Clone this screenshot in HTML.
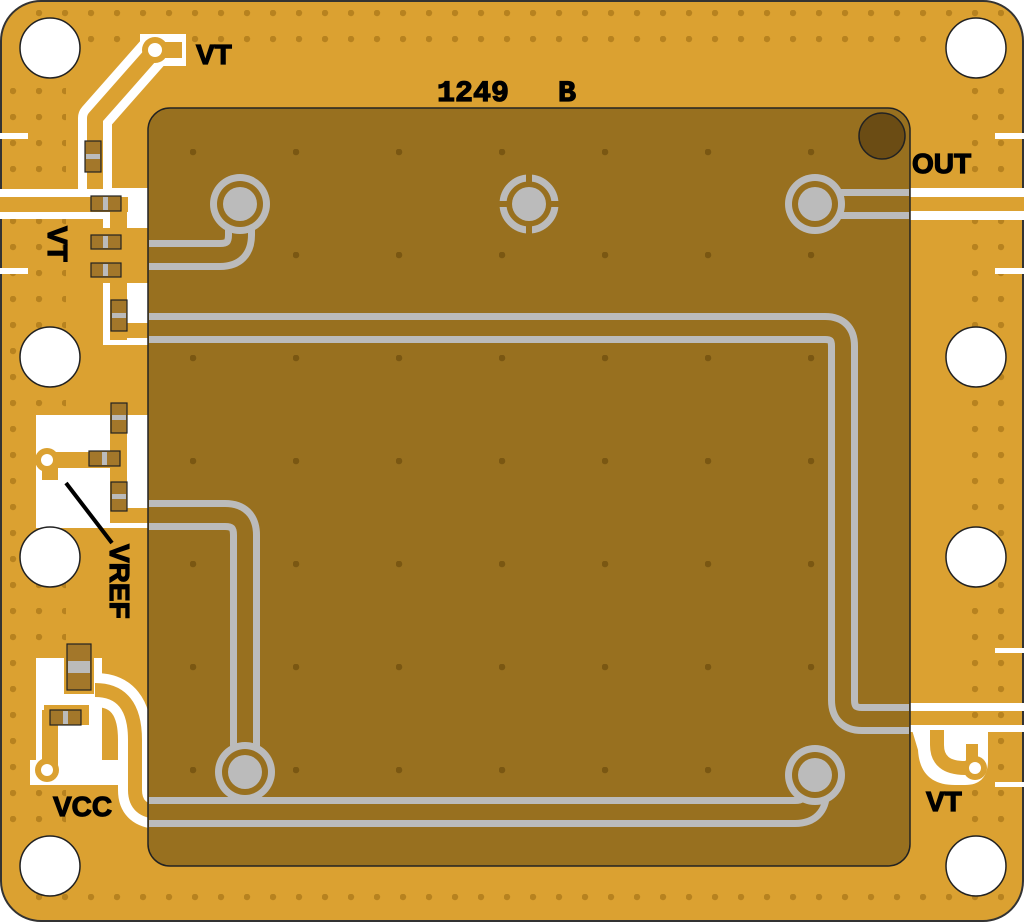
<!DOCTYPE html>
<html><head><meta charset="utf-8"><style>
html,body{margin:0;padding:0;background:#fff;}
svg{display:block}
text{font-family:"Liberation Sans",sans-serif;font-weight:bold;fill:#000;stroke:#000;stroke-width:1.2}
</style></head><body>
<svg width="1024" height="922" viewBox="0 0 1024 922" xmlns="http://www.w3.org/2000/svg">
<defs>
<pattern id="vd" x="10" y="10" width="26" height="26" patternUnits="userSpaceOnUse"><circle cx="3" cy="3" r="3.2" fill="#b7821f"/></pattern>
<pattern id="vi" x="293" y="149" width="103" height="103" patternUnits="userSpaceOnUse"><circle cx="3" cy="3" r="3.3" fill="#7a5712"/></pattern>
</defs>
<rect x="1" y="1" width="1022" height="920" rx="40" fill="#DBA131" stroke="#333" stroke-width="2"/>
<rect x="20" y="8" width="984" height="42" fill="url(#vd)"/>
<rect x="20" y="884" width="984" height="32" fill="url(#vd)"/>
<rect x="6" y="80" width="60" height="760" fill="url(#vd)"/>
<rect x="970" y="80" width="50" height="760" fill="url(#vd)"/>

<path d="M155 50 L95 118 L95 190" fill="none" stroke="#fff" stroke-width="34" stroke-linejoin="round"/>
<rect x="140" y="34" width="46" height="32" fill="#fff"/>
<path d="M155 50 L95 118 L95 195" fill="none" stroke="#DBA131" stroke-width="16" stroke-linejoin="round"/>
<rect x="152" y="42" width="30" height="16" fill="#DBA131"/>
<circle cx="155" cy="50" r="13" fill="#DBA131"/>
<circle cx="155" cy="50" r="7" fill="#fff"/>
<rect x="0" y="189" width="148" height="30" fill="#fff"/>
<rect x="103" y="188" width="45" height="157" fill="#fff"/>
<rect x="0" y="197" width="128" height="15" fill="#DBA131"/>
<rect x="110" y="197" width="17" height="143" fill="#DBA131"/>
<rect x="103" y="228" width="45" height="55" fill="#DBA131"/>
<rect x="110" y="323" width="38" height="15" fill="#DBA131"/>
<rect x="0" y="133" width="28" height="6" fill="#fff"/>
<rect x="0" y="268" width="28" height="6" fill="#fff"/>

<rect x="36" y="415" width="112" height="113" fill="#fff"/>
<rect x="110" y="400" width="17" height="120" fill="#DBA131"/>
<rect x="110" y="508" width="38" height="15" fill="#DBA131"/>
<rect x="44" y="452" width="70" height="16" fill="#DBA131"/>
<rect x="42" y="460" width="16" height="20" fill="#DBA131"/>
<circle cx="47" cy="460" r="12" fill="#DBA131"/>
<circle cx="47" cy="460" r="6" fill="#fff"/>
<line x1="66" y1="483" x2="112" y2="543" stroke="#000" stroke-width="4"/>

<rect x="36" y="658" width="66" height="112" fill="#fff"/>
<rect x="30" y="760" width="90" height="25" fill="#fff"/>
<path d="M95 690 Q135 690 135 740 L135 790 Q135 812 160 812" fill="none" stroke="#fff" stroke-width="34"/>
<path d="M95 690 Q135 690 135 740 L135 790 Q135 812 160 812" fill="none" stroke="#DBA131" stroke-width="14"/>
<rect x="64" y="644" width="30" height="50" fill="#DBA131"/>
<rect x="44" y="705" width="45" height="20" fill="#DBA131"/>
<rect x="42" y="710" width="16" height="55" fill="#DBA131"/>
<circle cx="47" cy="770" r="12" fill="#DBA131"/>
<circle cx="47" cy="770" r="6" fill="#fff"/>

<rect x="910" y="188" width="114" height="32" fill="#fff"/>
<rect x="910" y="197" width="114" height="14" fill="#DBA131"/>
<rect x="995" y="133" width="29" height="6" fill="#fff"/>
<rect x="995" y="268" width="29" height="6" fill="#fff"/>
<rect x="995" y="648" width="29" height="5" fill="#fff"/>
<rect x="995" y="782" width="29" height="5" fill="#fff"/>
<rect x="910" y="703" width="114" height="8" fill="#fff"/>
<rect x="910" y="725" width="114" height="7" fill="#fff"/>
<path d="M912 730 L988 730 L988 760 Q988 785 965 785 L955 785 Q920 785 918 750 Z" fill="#fff"/>
<path d="M937 730 L937 745 Q937 768 965 768 L975 768" fill="none" stroke="#DBA131" stroke-width="14"/>
<rect x="966" y="744" width="12" height="20" fill="#DBA131"/>
<circle cx="975" cy="768" r="12" fill="#DBA131"/>
<circle cx="975" cy="768" r="6" fill="#fff"/>

<g fill="#fff" stroke="#222" stroke-width="1.5">
<circle cx="50" cy="48" r="30"/><circle cx="976" cy="48" r="30"/>
<circle cx="50" cy="357" r="30"/><circle cx="976" cy="357" r="30"/>
<circle cx="50" cy="557" r="30"/><circle cx="976" cy="557" r="30"/>
<circle cx="50" cy="866" r="30"/><circle cx="976" cy="866" r="30"/>
</g>

<rect x="148" y="108" width="762" height="758" rx="22" fill="#98701F" stroke="#222" stroke-width="1.5"/>
<rect x="150" y="110" width="758" height="754" fill="url(#vi)"/>
<circle cx="882" cy="136" r="23" fill="#6b4c14" stroke="#222" stroke-width="1.5"/>

<g fill="none" stroke-linejoin="round">
<g stroke="#BBBBBB" stroke-width="30">
<path d="M240 204 L240 235 Q240 255 220 255 L149 255"/>
<path d="M149 328 L825 328 Q843 328 843 346 L843 700 Q843 719 862 719 L909 719"/>
<path d="M149 515 L225 515 Q245 515 245 535 L245 772"/>
<path d="M815 775 L815 792 Q815 812 795 812 L149 812"/>
<path d="M815 204 L909 204"/>
</g>
<g stroke="#98701F" stroke-width="16">
<path d="M240 204 L240 235 Q240 255 220 255 L149 255"/>
<path d="M149 328 L825 328 Q843 328 843 346 L843 700 Q843 719 862 719 L909 719"/>
<path d="M149 515 L225 515 Q245 515 245 535 L245 772"/>
<path d="M815 775 L815 792 Q815 812 795 812 L149 812"/>
<path d="M815 204 L909 204"/>
</g>
</g>
<g>
<circle cx="240" cy="204" r="30" fill="#BBBBBB"/><circle cx="240" cy="204" r="23" fill="#98701F"/><circle cx="240" cy="204" r="17" fill="#BBBBBB"/>
<circle cx="815" cy="204" r="30" fill="#BBBBBB"/><circle cx="815" cy="204" r="23" fill="#98701F"/><circle cx="815" cy="204" r="17" fill="#BBBBBB"/>
<circle cx="245" cy="772" r="30" fill="#BBBBBB"/><circle cx="245" cy="772" r="23" fill="#98701F"/><circle cx="245" cy="772" r="17" fill="#BBBBBB"/>
<circle cx="815" cy="775" r="30" fill="#BBBBBB"/><circle cx="815" cy="775" r="23" fill="#98701F"/><circle cx="815" cy="775" r="17" fill="#BBBBBB"/>
<circle cx="529" cy="204" r="26" fill="none" stroke="#BBBBBB" stroke-width="7"/>
<rect x="526" y="174" width="6" height="60" fill="#98701F"/>
<rect x="499" y="201" width="60" height="6" fill="#98701F"/>
<circle cx="529" cy="204" r="17" fill="#BBBBBB"/>
</g>

<g stroke="#222" stroke-width="1.2">
<rect x="85" y="141" width="16" height="31" fill="#A3772A"/>
<rect x="91" y="196" width="30" height="15" fill="#A3772A"/>
<rect x="91" y="235" width="30" height="14" fill="#A3772A"/>
<rect x="91" y="263" width="30" height="14" fill="#A3772A"/>
<rect x="111" y="300" width="16" height="31" fill="#A3772A"/>
<rect x="111" y="403" width="16" height="30" fill="#A3772A"/>
<rect x="89" y="451" width="31" height="15" fill="#A3772A"/>
<rect x="111" y="482" width="16" height="29" fill="#A3772A"/>
<rect x="67" y="644" width="24" height="46" fill="#A3772A"/>
<rect x="50" y="710" width="31" height="15" fill="#A3772A"/>
</g>
<g fill="#BBBBBB">
<rect x="86" y="154" width="14" height="5"/>
<rect x="103" y="197" width="5" height="13"/>
<rect x="103" y="236" width="5" height="12"/>
<rect x="103" y="264" width="5" height="12"/>
<rect x="112" y="313" width="14" height="5"/>
<rect x="112" y="415" width="14" height="5"/>
<rect x="102" y="452" width="5" height="13"/>
<rect x="112" y="494" width="14" height="5"/>
<rect x="68" y="661" width="22" height="12"/>
<rect x="63" y="711" width="5" height="13"/>
</g>

<text x="196" y="64" font-size="28">VT</text>
<text x="437" y="101" font-size="30" style="font-family:'Liberation Mono',monospace">1249</text>
<text x="558" y="101" font-size="30" style="font-family:'Liberation Mono',monospace">B</text>
<text x="912" y="173" font-size="28">OUT</text>
<text x="53" y="816" font-size="28">VCC</text>
<text x="926" y="811" font-size="28">VT</text>
<text transform="translate(48,226) rotate(90)" font-size="28">VT</text>
<text transform="translate(110,544) rotate(90)" font-size="28">VREF</text>
</svg>
</body></html>
